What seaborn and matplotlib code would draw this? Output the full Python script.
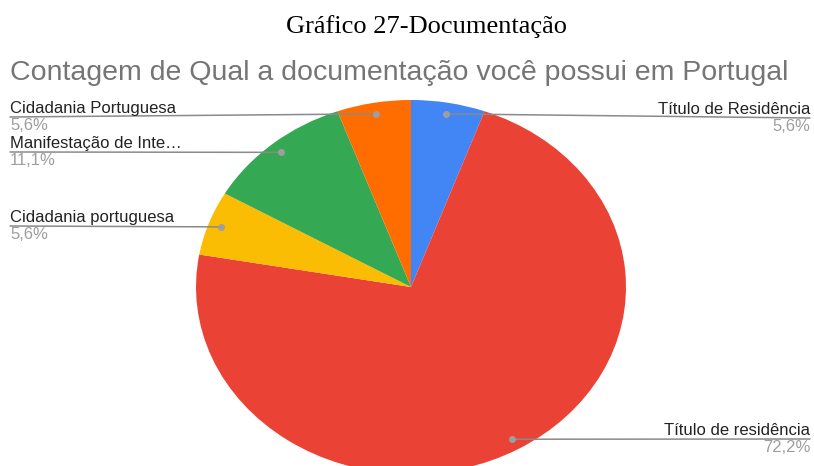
import numpy as np
import matplotlib
matplotlib.use("Agg")
import matplotlib.pyplot as plt
import seaborn as sns

# Data (counts out of 18 answers)
categories = ["Título de Residência", "Título de residência", "Cidadania portuguesa",
              "Manifestação de Inte…", "Cidadania Portuguesa"]
counts = [1, 13, 1, 2, 1]
colors = ["#4285F4", "#EA4335", "#FBBC04", "#34A853", "#FF6D01"]

sns.set_theme(style="white")
plt.rcParams['font.family'] = ['Liberation Sans', 'DejaVu Sans']

W, H = 814, 466
fig = plt.figure(figsize=(W / 100, H / 100), dpi=100)

# overlay axes in pixel coords for text and leader lines
ov = fig.add_axes([0, 0, 1, 1])
ov.set_xlim(0, W)
ov.set_ylim(H, 0)
ov.axis('off')

# pie axes: ellipse, centre (411, 287), radii 215 x 187
cx, cy, rx, ry = 411, 287, 215, 187
pie_ax = fig.add_axes([(cx - rx) / W, (H - cy - ry) / H, 2 * rx / W, 2 * ry / H])
wedges, _ = pie_ax.pie(counts, colors=sns.color_palette(colors), startangle=90,
                       counterclock=False, wedgeprops=dict(linewidth=0))
pie_ax.set_aspect('auto')
pie_ax.set_xlim(-1, 1)
pie_ax.set_ylim(-1, 1)
pie_ax.axis('off')
pie_ax.set_zorder(0)
ov.set_zorder(1)

ov.text(427, 27, "Gráfico 27-Documentação", family='Liberation Serif',
        fontsize=19, ha='center', va='center', color='black')
ov.text(10, 73, "Contagem de Qual a documentação você possui em Portugal",
        fontsize=20.5, ha='left', va='center', color='#757575')

total = sum(counts)
# label side and vertical position of the leader line (layout)
label_side = ["right", "right", "left", "left", "left"]
line_y = [118, 439, 226, 152, 117]

for w, name, n, side, ly in zip(wedges, categories, counts, label_side, line_y):
    mid = np.deg2rad((w.theta1 + w.theta2) / 2)
    r = 0.94
    px = cx + rx * r * np.cos(mid)
    py = cy - ry * r * np.sin(mid)
    pct = f"{100 * n / total:.1f}%".replace('.', ',')
    if side == "right":
        xe = 810
        ha = 'right'
    else:
        xe = 10
        ha = 'left'
    ov.plot([px, xe], [py, ly], color='#8a8a8a', lw=1.1)
    ov.plot(px, py, 'o', color='#9e9e9e', ms=4)
    ov.text(xe, ly - 1, name, fontsize=12, ha=ha, va='bottom', color='#222222')
    ov.text(xe, ly + 1, pct, fontsize=12, ha=ha, va='top', color='#9e9e9e')

fig.savefig("out.png", dpi=100)
